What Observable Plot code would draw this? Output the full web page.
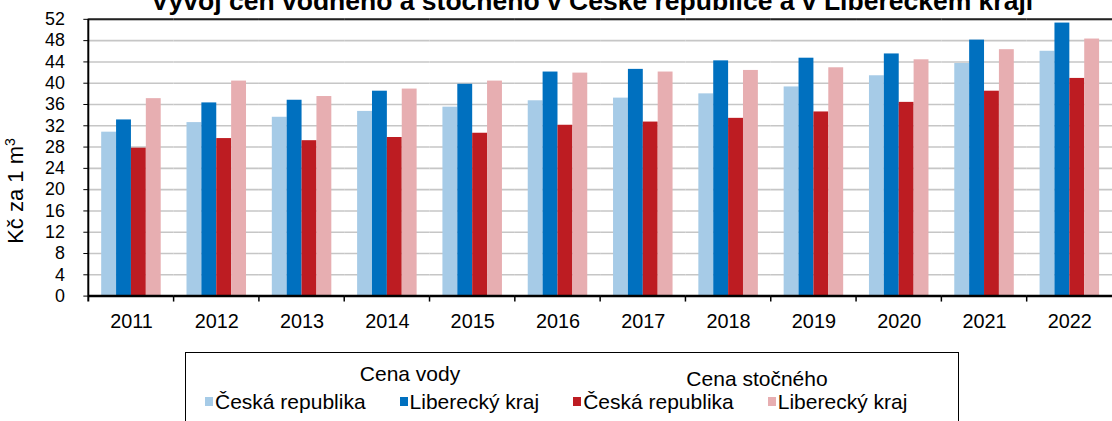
<!DOCTYPE html>
<html>
<head>
<meta charset="utf-8">
<script src="https://cdn.jsdelivr.net/npm/d3@7"></script>
<script src="https://cdn.jsdelivr.net/npm/@observablehq/plot@0.6"></script>
<style>
  html, body { margin: 0; padding: 0; background: #fff; }
  #wrap { position: relative; width: 1112px; height: 421px; overflow: hidden; font-family: "Liberation Sans", Arial, sans-serif; color: #000; }
  #title { position: absolute; left: 592px; top: -12px; transform: translateX(-50%); white-space: nowrap; font-weight: bold; font-size: 26.5px; line-height: 26.5px; }
  #ylabel { position: absolute; left: 17px; top: 191px; transform: translate(-50%, -50%) rotate(-90deg); white-space: nowrap; font-size: 22px; line-height: 22px; }
  #ylabel sup { font-size: 14px; vertical-align: 0; position: relative; top: -8px; }
  #chart { position: absolute; left: 0; top: 0; }
  #legendbox { position: absolute; left: 185px; top: 352px; width: 774px; height: 100px; border: 1.5px solid #000; box-sizing: border-box; }
  .lghead { position: absolute; transform: translate(-50%, -50%); white-space: nowrap; font-size: 21px; line-height: 21px; }
  #lgitems { position: absolute; left: 205px; top: 391px; display: flex; gap: 34px; font-size: 21px; line-height: 21px; white-space: nowrap; }
  .lgitem { display: flex; align-items: center; }
  .sw { width: 8px; height: 9px; margin-right: 2px; display: inline-block; }
</style>
</head>
<body>
<div id="wrap">
  <div id="chart"></div>
  <div id="title"></div>
  <div id="ylabel"></div>
  <div id="legendbox"></div>
  <div id="lgitems"></div>
</div>
<script>
// ---- data ----
const titleText = "Vývoj cen vodného a stočného v České republice a v Libereckém kraji";
const yLabelText = "Kč za 1 m";
const yLabelSup = "3";
const years = ["2011","2012","2013","2014","2015","2016","2017","2018","2019","2020","2021","2022"];
const seriesKeys = ["vodneCR","vodneLK","stocneCR","stocneLK"];
const seriesLabels = ["Česká republika","Liberecký kraj","Česká republika","Liberecký kraj"];
const seriesColors = ["#a6cbe7","#0070bf","#bd1c22","#e7aeb1"];
const groupLabels = ["Cena vody","Cena stočného"];
const vodneCR  = [30.8,32.6,33.6,34.7,35.5,36.7,37.2,38.0,39.3,41.4,43.7,46.0];
const vodneLK  = [33.1,36.3,36.8,38.5,39.8,42.1,42.6,44.2,44.7,45.5,48.1,51.3];
const stocneCR = [27.8,29.6,29.2,29.8,30.6,32.1,32.7,33.4,34.6,36.4,38.5,40.9];
const stocneLK = [37.1,40.4,37.5,38.9,40.4,41.9,42.1,42.4,42.9,44.4,46.3,48.3];
const yTicks = d3.range(0, 53, 4);

const seriesValues = [vodneCR, vodneLK, stocneCR, stocneLK];
const data = [];
years.forEach((yr, i) => seriesKeys.forEach((k, j) => data.push({year: yr, key: k, value: seriesValues[j][i]})));

// ---- chart ----
const plot = Plot.plot({
  width: 1121,
  height: 338,
  marginLeft: 88,
  marginRight: 0,
  marginTop: 19,
  marginBottom: 40,
  style: {fontFamily: "'Liberation Sans', Arial, sans-serif", fontSize: "18px", color: "#000", background: "transparent", overflow: "visible"},
  fx: {domain: years, padding: 0, label: null},
  x: {domain: seriesKeys, paddingInner: 0, paddingOuter: 0.775, axis: null},
  y: {domain: [0, 52], label: null},
  color: {domain: seriesKeys, range: seriesColors},
  marks: [
    Plot.gridY(yTicks, {stroke: "#c6c6c6", strokeWidth: 1.6, strokeOpacity: 1}),
    Plot.barY(data, {fx: "year", x: "key", y: "value", fill: "key"}),
    Plot.ruleY([0], {stroke: "#000", strokeWidth: 2.5}),
    Plot.ruleY([52], {stroke: "#222", strokeWidth: 2}),
    Plot.axisY(yTicks, {tickSize: 5, tickFormat: () => "", label: null}),
    Plot.text(yTicks, {y: d => d, text: d => String(d), frameAnchor: "left", textAnchor: "end", dx: -24, fontSize: 18, facetAnchor: "left"}),
    Plot.axisFx({anchor: "bottom", tickSize: 0, tickPadding: 18, fontSize: 20, label: null})
  ]
});
document.getElementById("chart").appendChild(plot);

// axis line on the left and category boundary ticks, placed with the plot's own scales
const fx = plot.scale("fx");
const ys = plot.scale("y");
const svg = d3.select(plot);
const y0 = ys.apply(0), yTop = ys.apply(52);
const x0 = fx.apply(years[0]);
svg.append("line").attr("x1", x0).attr("x2", x0).attr("y1", yTop).attr("y2", y0 + 6)
  .attr("stroke", "#000").attr("stroke-width", 2);
years.slice(1).forEach(yr => {
  const xb = fx.apply(yr);
  svg.append("line").attr("x1", xb).attr("x2", xb).attr("y1", y0).attr("y2", y0 + 6)
    .attr("stroke", "#000").attr("stroke-width", 1.5);
});

// ---- texts ----
document.getElementById("title").textContent = titleText;
const yl = document.getElementById("ylabel");
yl.textContent = yLabelText;
const sup = document.createElement("sup"); sup.textContent = yLabelSup; yl.appendChild(sup);

// ---- legend ----
const wrap = document.getElementById("wrap");
const headPos = [[410, 373], [757, 378]];
groupLabels.forEach((g, i) => {
  const d = document.createElement("div");
  d.className = "lghead";
  d.style.left = headPos[i][0] + "px";
  d.style.top = headPos[i][1] + "px";
  d.textContent = g;
  wrap.appendChild(d);
});
const items = document.getElementById("lgitems");
seriesKeys.forEach((k, i) => {
  const it = document.createElement("div"); it.className = "lgitem";
  const sw = document.createElement("span"); sw.className = "sw"; sw.style.background = seriesColors[i];
  const tx = document.createElement("span"); tx.textContent = seriesLabels[i];
  it.appendChild(sw); it.appendChild(tx); items.appendChild(it);
});
</script>
</body>
</html>
